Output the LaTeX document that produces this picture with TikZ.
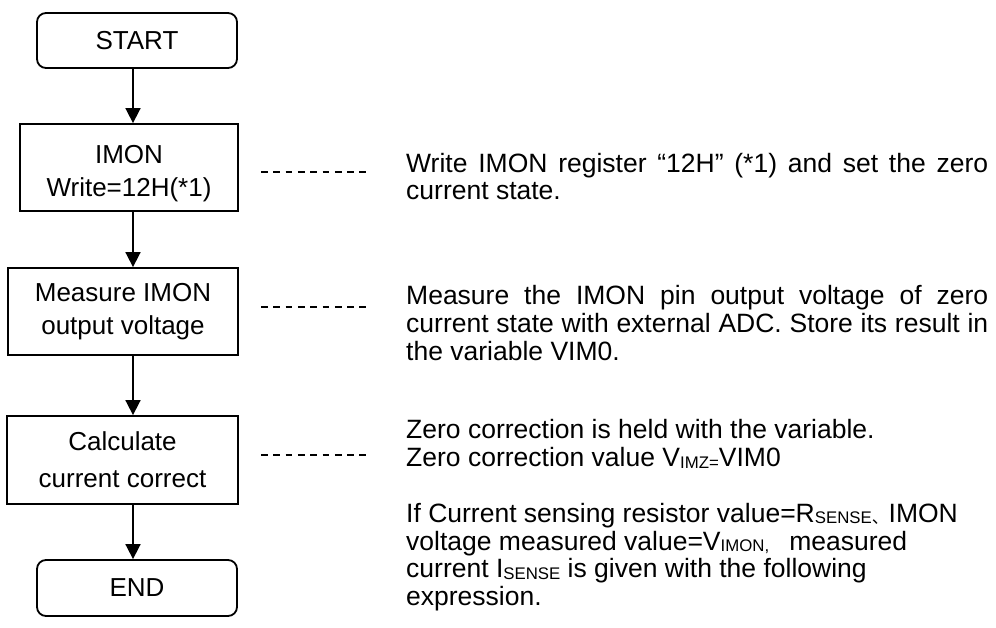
\documentclass[tikz,border=0pt]{standalone}
\usepackage{fontspec}
\setmainfont{Liberation Sans}
\newfontfamily\cjkfont{Noto Sans CJK JP}
\usetikzlibrary{arrows.meta}
\newcommand{\subsc}[1]{\raisebox{-1.5pt}{\fontsize{16.8}{16.8}\selectfont #1}}
\begin{document}
\begin{tikzpicture}[x=1pt,y=-1pt,
  flowbox/.style={draw, line width=1.8pt, inner sep=0pt, align=center, font=\fontsize{26}{33}\selectfont},
  termbox/.style={flowbox, rounded corners=9pt},
  flowarrow/.style={line width=1.7pt, -{Triangle[length=15pt,width=15pt]}},
  leader/.style={line width=1.4pt, dash pattern=on 6.7pt off 5.6pt},
  txt/.style={anchor=base west, inner sep=0pt, font=\fontsize{26.5}{27.7}\selectfont}]
\useasboundingbox (0,0) rectangle (996,628);
% flow boxes
\node[termbox, minimum width=200pt, minimum height=55pt] (start) at (137,40.5) {START};
\node[flowbox, minimum width=218pt, minimum height=87pt] (imon) at (129,167.5) {\rule{0pt}{29.6pt}IMON\\Write=12H(*1)};
\node[flowbox, minimum width=230pt, minimum height=87pt] (meas) at (123,311.5) {Measure IMON\\output voltage};
\node[flowbox, minimum width=231pt, minimum height=88pt] (calc) at (122.5,460) {Calculate\\[4pt]current correct};
\node[termbox, minimum width=200pt, minimum height=56pt] (end) at (137,588) {END};
% arrows
\coordinate (ax) at (133,0);
\draw[flowarrow] (start.south -| ax) -- (imon.north -| ax);
\draw[flowarrow] (imon.south -| ax) -- (meas.north -| ax);
\draw[flowarrow] (meas.south -| ax) -- (calc.north -| ax);
\draw[flowarrow] (calc.south -| ax) -- (end.north -| ax);
% leader lines
\coordinate (d1a) at (261,172); \coordinate (d1b) at (366,172);
\coordinate (d2a) at (261,307); \coordinate (d2b) at (366,307);
\coordinate (d3a) at (261,455); \coordinate (d3b) at (366,455);
\draw[leader] (d1a) -- (d1b);
\draw[leader] (d2a) -- (d2b);
\draw[leader] (d3a) -- (d3b);
% texts
\node[txt] (p1a) at (406,173) {\makebox[582pt][s]{Write IMON register “12H” (*1) and set the zero}};
\node[txt] (p1b) at (406,200) {current state.};
\node[txt] (p2a) at (406,305) {\makebox[582pt][s]{Measure the IMON pin output voltage of zero}};
\node[txt] (p2b) at (406,333) {\makebox[582pt][s]{current state with external ADC. Store its result in}};
\node[txt] (p2c) at (406,360.5) {the variable VIM0.};
\node[txt] (p3a) at (406,438) {Zero correction is held with the variable.};
\node[txt] (p3b) at (406,466.5) {Zero correction value V\subsc{IMZ=}VIM0};
\node[txt] (p4a) at (406,522) {If Current sensing resistor value=R\subsc{SENSE{\cjkfont 、}}IMON};
\node[txt] (p4b) at (406,550) {voltage measured value=V\subsc{IMON,}\hspace{20pt}measured};
\node[txt] (p4c) at (406,577.5) {current I\subsc{SENSE} is given with the following};
\node[txt] (p4d) at (406,605) {expression.};
\end{tikzpicture}
\end{document}
